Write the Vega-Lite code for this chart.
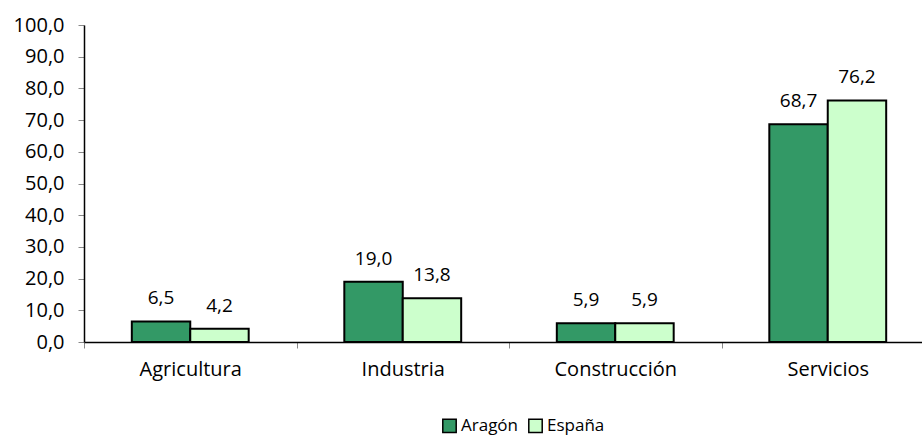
{
  "$schema": "https://vega.github.io/schema/vega-lite/v6.json",
  "autosize": "none",
  "width": 838,
  "height": 317,
  "padding": {"left": 84, "top": 25, "right": 0, "bottom": 93},
  "background": "white",
  "config": {
    "locale": {"number": {"decimal": ",", "thousands": ".", "grouping": [3], "currency": ["", " €"]}},
    "view": {"stroke": null},
    "font": "Open Sans"
  },
  "data": {
    "values": [
      {"sector": "Agricultura", "region": "Aragón", "value": 6.5},
      {"sector": "Agricultura", "region": "España", "value": 4.2},
      {"sector": "Industria", "region": "Aragón", "value": 19.0},
      {"sector": "Industria", "region": "España", "value": 13.8},
      {"sector": "Construcción", "region": "Aragón", "value": 5.9},
      {"sector": "Construcción", "region": "España", "value": 5.9},
      {"sector": "Servicios", "region": "Aragón", "value": 68.7},
      {"sector": "Servicios", "region": "España", "value": 76.2}
    ]
  },
  "encoding": {
    "x": {
      "field": "sector", "type": "nominal", "sort": null,
      "scale": {"paddingInner": 0.45, "paddingOuter": 0.225, "range": [0, 850]},
      "axis": {
        "title": null, "labelAngle": 0, "labelFontSize": 20, "labelColor": "black",
        "labelPadding": 11, "domainColor": "black", "domainWidth": 1.5, "tickColor": "#888888",
        "tickOffset": -106.25, "labelOffset": 106.25, "tickSize": 6
      }
    },
    "xOffset": {"field": "region", "type": "nominal", "sort": ["Aragón", "España"]},
    "y": {
      "field": "value", "type": "quantitative",
      "scale": {"domain": [0, 100]},
      "axis": {
        "title": null, "values": [0,10,20,30,40,50,60,70,80,90,100], "format": ".1f",
        "grid": false, "labelFontSize": 20, "labelColor": "black", "domainColor": "black",
        "domainWidth": 1.5, "tickColor": "#888888", "tickSize": 6, "labelPadding": 14
      }
    }
  },
  "layer": [
    {
      "mark": {"type": "bar", "stroke": "black", "strokeWidth": 2},
      "encoding": {
        "color": {
          "field": "region", "type": "nominal", "sort": ["Aragón", "España"],
          "scale": {"domain": ["Aragón", "España"], "range": ["#339966", "#CCFFCC"]},
          "legend": {
            "title": null, "orient": "none", "direction": "horizontal",
            "legendX": 357, "legendY": 392, "labelFontSize": 17, "labelColor": "black",
            "symbolType": "square", "symbolSize": 180, "symbolStrokeColor": "black",
            "symbolStrokeWidth": 1.5, "labelOffset": 3, "columnPadding": 6
          }
        }
      }
    },
    {
      "mark": {"type": "text", "baseline": "alphabetic", "dy": -17, "fontSize": 19, "color": "black"},
      "encoding": {
        "text": {"field": "value", "type": "quantitative", "format": ".1f"}
      }
    }
  ]
}
